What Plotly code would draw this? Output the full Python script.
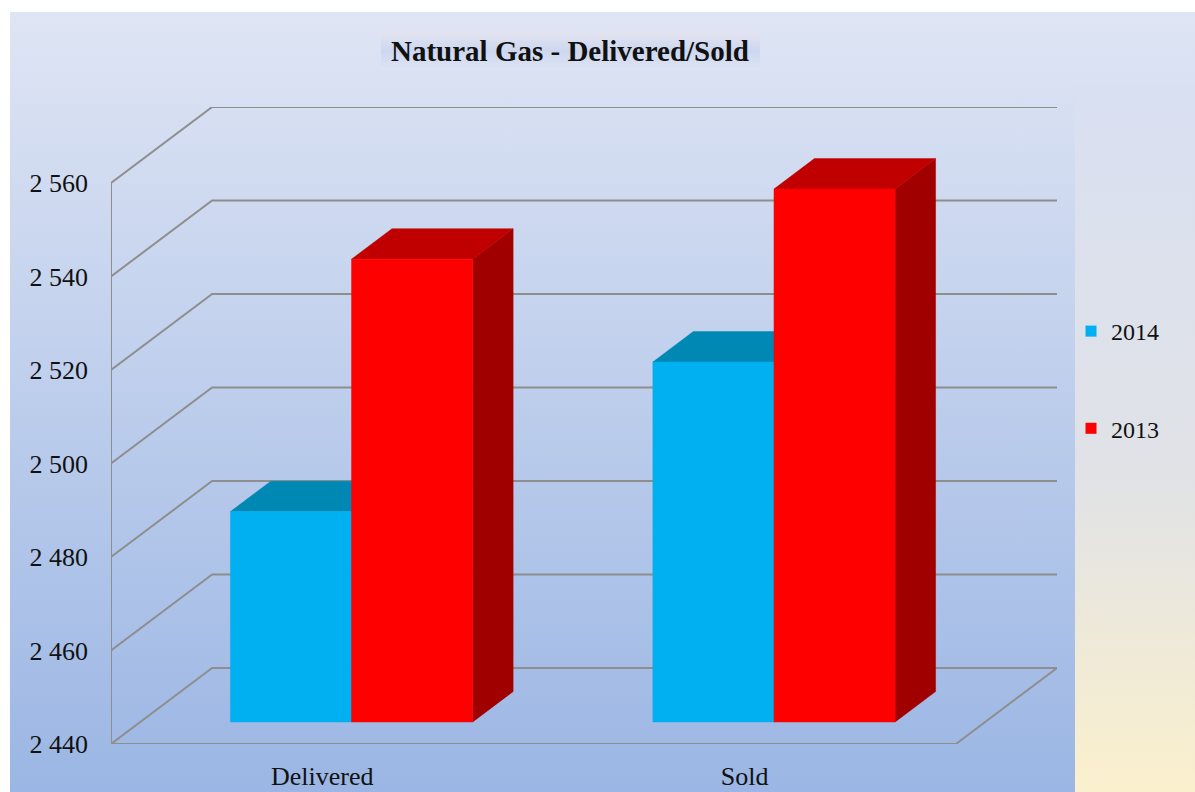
import plotly.graph_objects as go

# ---------------- data ----------------
categories = ["Delivered", "Sold"]
series_names = ["2014", "2013"]
values_2014 = [2485, 2517]
values_2013 = [2539, 2554]
y_ticks = [2440, 2460, 2480, 2500, 2520, 2540, 2560]
title_text = "Natural Gas - Delivered/Sold"

# ---------------- styling / geometry ----------------
W, H = 1195, 792
FONT = "Liberation Serif"
FRONT_LEFT_PX, BACK_RIGHT_PX = 111, 1057
FLOOR_PX, TOP_PX = 744, 107
PX_PER_CAT = 422.0
PX_PER_VAL = 4.675
DX = 101 / PX_PER_CAT          # depth shift in category units
DV = 76 / PX_PER_VAL           # depth shift in value units
D_FRONT, D_BACK = 0.29, 0.69   # bar depth (fraction of floor depth)
BAR_W = 121 / PX_PER_CAT
Y0 = y_ticks[0]
GRID_COLOR = "#8E8E8E"

front_colors = {"2014": "#00B0F0", "2013": "#FF0000"}
top_colors = {"2014": "#0088B4", "2013": "#C00000"}
side_colors = {"2014": "#0078A0", "2013": "#A00000"}
series_values = {"2014": values_2014, "2013": values_2013}

x_lo = -0.5
x_hi = len(categories) - 0.5
y_hi = y_ticks[-1]

fig = go.Figure()

# ---------------- background (pixel axes x/y) ----------------
def rect(x0, y0, x1, y1, stops):
    fig.add_trace(go.Scatter(
        x=[x0, x1, x1, x0, x0], y=[y0, y0, y1, y1, y0],
        mode="lines", line=dict(width=0), fill="toself",
        fillgradient=dict(type="vertical", start=y0, stop=y1, colorscale=stops),
        xaxis="x", yaxis="y", showlegend=False, hoverinfo="skip"))

rect(10, 12, W, H, [[0, "#DFE5F4"], [1, "#9BB6E4"]])
rect(1075, 83, W, H, [[0, "#D9E0F2"], [0.55, "#E0E2E6"], [1, "#FBF0CD"]])
rect(381, 32, 760, 70, [[0, "#E4E4F0"], [0.5, "#CCD7EF"], [1, "#DEE4F3"]])

# ---------------- grid / walls (chart axes x2/y2) ----------------
gx, gy = [], []
for v in y_ticks:
    # left wall diagonal + back wall horizontal
    gx += [x_lo, x_lo + DX, x_hi + DX, None]
    gy += [v, v + DV, v + DV, None]
gx += [x_lo, x_lo, None]
gy += [Y0, y_hi, None]
gx += [x_lo, x_hi, x_hi + DX, None]
gy += [Y0, Y0, Y0 + DV, None]
fig.add_trace(go.Scatter(x=gx, y=gy, mode="lines",
                         line=dict(color=GRID_COLOR, width=2),
                         xaxis="x2", yaxis="y2", showlegend=False, hoverinfo="skip"))

# ---------------- 3D bars ----------------
def face(xs, ys, color):
    fig.add_trace(go.Scatter(
        x=xs + [xs[0]], y=ys + [ys[0]], mode="lines", fill="toself",
        fillcolor=color, line=dict(color=color, width=0.5),
        xaxis="x2", yaxis="y2", showlegend=False, hoverinfo="skip"))

for i, cat in enumerate(categories):
    for s, name in enumerate(series_names):
        v = series_values[name][i]
        x0 = i + (s - 1) * BAR_W
        x1 = x0 + BAR_W
        fx0, fx1 = x0 + D_FRONT * DX, x1 + D_FRONT * DX
        bx0, bx1 = x0 + D_BACK * DX, x1 + D_BACK * DX
        fb, ft = Y0 + D_FRONT * DV, v + D_FRONT * DV
        bb, bt = Y0 + D_BACK * DV, v + D_BACK * DV
        face([fx1, bx1, bx1, fx1], [fb, bb, bt, ft], side_colors[name])
        face([fx0, fx1, bx1, bx0], [ft, ft, bt, bt], top_colors[name])
        face([fx0, fx1, fx1, fx0], [fb, fb, ft, ft], front_colors[name])

# ---------------- legend entries ----------------
for name in series_names:
    fig.add_trace(go.Scatter(
        x=[None], y=[None], mode="markers", name=name, legendgroup=name,
        marker=dict(symbol="square", size=11, color=front_colors[name]),
        xaxis="x2", yaxis="y2"))

fig.add_annotation(text="<b>" + title_text + "</b>", xref="paper", yref="paper",
                   x=570 / W, y=1 - 51 / H, xanchor="center", yanchor="middle",
                   showarrow=False, font=dict(family=FONT, size=29, color="#111111"))

fig.update_layout(
    width=W, height=H, autosize=False,
    margin=dict(l=0, r=0, t=0, b=0, pad=0, autoexpand=False),
    paper_bgcolor="white", plot_bgcolor="rgba(0,0,0,0)",
    separators=", ",
    font=dict(family=FONT, size=26, color="#111111"),
    showlegend=True,
    legend=dict(x=1071 / W, y=1 - 309 / H, xanchor="left", yanchor="top",
                bgcolor="rgba(0,0,0,0)", traceorder="grouped", tracegroupgap=63,
                font=dict(family=FONT, size=24, color="#111111"), itemwidth=30),
    xaxis=dict(domain=[0, 1], range=[0, W], visible=False, fixedrange=True,
               automargin=False),
    yaxis=dict(domain=[0, 1], range=[H, 0], visible=False, fixedrange=True,
               automargin=False),
    xaxis2=dict(domain=[FRONT_LEFT_PX / W, BACK_RIGHT_PX / W], anchor="y2",
                range=[x_lo, x_hi + DX], tickmode="array", automargin=False,
                tickvals=list(range(len(categories))), ticktext=categories,
                showgrid=False, zeroline=False, showline=False, ticks="",
                ticklabelstandoff=14, tickfont=dict(family=FONT, size=26, color="#111111")),
    yaxis2=dict(domain=[1 - FLOOR_PX / H, 1 - TOP_PX / H], anchor="x2",
                range=[Y0, y_hi + DV], tickmode="array", tickvals=y_ticks,
                tickformat=",d", showgrid=False, zeroline=False, showline=False,
                ticks="", ticklabelstandoff=22, automargin=False,
                tickfont=dict(family=FONT, size=26, color="#111111")),
)

fig.write_html("out.html")
